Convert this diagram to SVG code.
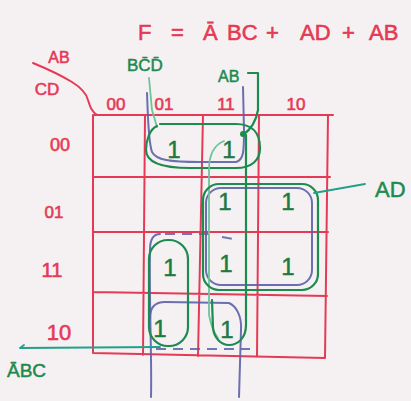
<svg xmlns="http://www.w3.org/2000/svg" width="411" height="401" viewBox="0 0 411 401">
<style>
.red{fill:none;stroke:#e53a55;stroke-width:2;stroke-linecap:round;stroke-linejoin:round}
.rt{fill:#e53a55;stroke:#e53a55;stroke-width:0.6;font-family:"Liberation Sans","DejaVu Sans",sans-serif}
.gt{fill:#1d8a4f;stroke:#1d8a4f;stroke-width:0.5;font-family:"Liberation Sans","DejaVu Sans",sans-serif}
.one{fill:#1d7a45;stroke:#1d7a45;stroke-width:0.5;font-family:"Liberation Sans","DejaVu Sans",sans-serif;font-size:24px;text-anchor:middle}
.g{fill:none;stroke:#1d8a4f;stroke-width:2.2;stroke-linecap:round;stroke-linejoin:round}
.lg{fill:none;stroke:#6cc59a;stroke-width:1.8;stroke-linecap:round}
.teal{fill:none;stroke:#23a08a;stroke-width:1.8;stroke-linecap:round}
.b{fill:none;stroke:#5c60a8;stroke-width:2;stroke-linecap:round;stroke-linejoin:round;opacity:0.9}
.bd{fill:none;stroke:#5c60a8;stroke-width:2;stroke-dasharray:10 7;opacity:0.85}
</style>
<rect width="411" height="401" fill="#f5f1f2"/>

<g id="title">
<text class="rt" font-size="22" y="40"><tspan x="138">F</tspan><tspan x="171">=</tspan><tspan x="203">Ā</tspan><tspan x="227">BC</tspan><tspan x="266">+</tspan><tspan x="300">AD</tspan><tspan x="342">+</tspan><tspan x="369">AB</tspan></text>
</g>

<g id="grid">
<path class="red" d="M93,115 L333,115 M93,115 L93,353 L325,358 L328,115 M93,177 L330,177 M93,232 L328,232 M93,292 L327,296 M145,115 L143,355 M203,115 L198,356 M259,115 L257,357"/>
<path class="red" d="M33,63 C50,70 62,76 72,82 C80,87 86,92 88,100 C90,106 91,111 97,115"/>
</g>

<g id="headers">
<text class="rt" font-size="16" x="59" y="63" text-anchor="middle">AB</text>
<text class="rt" font-size="17" x="47" y="95" text-anchor="middle">CD</text>
<text class="rt" font-size="17" x="116" y="110" text-anchor="middle">00</text>
<text class="rt" font-size="17" x="164" y="110" text-anchor="middle">01</text>
<text class="rt" font-size="17" x="226" y="110" text-anchor="middle">11</text>
<text class="rt" font-size="17" x="296" y="110" text-anchor="middle">10</text>
<text class="rt" font-size="18" x="60" y="151" text-anchor="middle">00</text>
<text class="rt" font-size="17" x="54" y="218" text-anchor="middle">01</text>
<text class="rt" font-size="20" x="52" y="277" text-anchor="middle">11</text>
<text class="rt" font-size="22" x="59" y="340" text-anchor="middle">10</text>
</g>

<g id="cells">
<text id="c0001" class="one" x="174" y="158">1</text>
<text id="c0011" class="one" x="229" y="158">1</text>
<text id="c0111" class="one" x="225" y="210">1</text>
<text id="c0110" class="one" x="288" y="210">1</text>
<text id="c1101" class="one" x="170" y="276" font-size="28">1</text>
<text id="c1111" class="one" x="226" y="272">1</text>
<text id="c1110" class="one" x="288" y="275">1</text>
<text id="c1001" class="one" x="160" y="337" font-size="28">1</text>
<text id="c1011" class="one" x="227" y="338">1</text>
</g>

<g id="connectors">
<path class="b" d="M147,93 C148,115 148,140 152,152 C156,160 170,162 200,162 L236,162 C244,160 244,150 244,130 L243,87"/>
<rect class="b" x="206" y="188" width="106" height="97" rx="15"/>
<path class="b" d="M151,397 C152,360 149,300 150,250 C150,240 153,234 160,234"/>
<path class="bd" d="M165,234 L210,234 M222,237 L238,240"/>
<path class="b" d="M150,318 C150,308 155,302 165,302 L229,303 C236,306 242,316 241,330 L239,397"/>
<path class="bd" d="M156,349 L250,349"/>

<path class="lg" d="M149,78 L152,110 L157,127"/>
<path class="g" d="M157,126 C150,129 146,140 146,150 C146,162 160,168 190,168 L236,168 C252,168 260,160 260,148 C260,133 252,124 236,124 L160,124"/>
<path class="g" d="M248,73 L258,73 L258,110 C256,122 250,130 243,135"/>
<circle cx="243" cy="134" r="3" fill="#1d8a4f"/>
<path class="lg" d="M224,141 C214,145 209,155 209,170 L209,315 C211,325 214,333 218,338"/>
<path class="g" d="M246,135 L246,325 C246,338 238,345 229,345 C221,345 214,338 213,328 L212,300"/>
<rect class="g" x="203" y="184" width="115" height="106" rx="16"/>
<path class="teal" d="M314,193 L365,184"/>
<rect class="g" x="149" y="240" width="39" height="106" rx="19"/>
<path class="teal" d="M160,347 L20,348 M20,348 L24,345"/>
</g>

<g id="labels">
<text class="gt" font-size="17" x="127" y="71">BC̄D̄</text>
<text class="gt" font-size="16" x="218" y="82">AB</text>
<text class="gt" font-size="22" x="375" y="197">AD</text>
<text class="gt" font-size="19" x="7" y="377">ĀBC</text>
</g>
</svg>
